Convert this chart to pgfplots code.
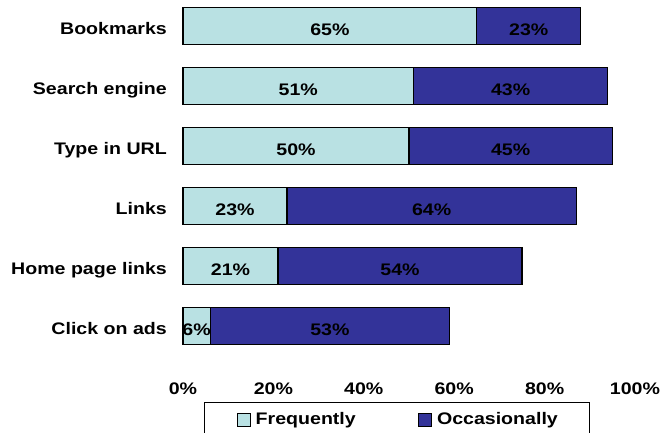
\documentclass[border=0pt]{standalone}
\usepackage{fontspec}
\setmainfont{Liberation Sans}[FakeStretch=1.17]
\usepackage{pgfplots}
\pgfplotsset{compat=1.18}
\definecolor{freq}{RGB}{185,225,227}
\definecolor{occ}{RGB}{51,51,153}
\begin{document}
\fontsize{16.8}{20}\selectfont\bfseries
\begin{tikzpicture}
\useasboundingbox (-183bp,0bp) rectangle (482bp,433bp);
\pgfplotsset{base/.style={
  scale only axis, width=452bp, height=433bp,
  xmin=0, xmax=100, ymin=-0.43333, ymax=6.78333, y dir=reverse,
  enlargelimits=false, clip=false, at={(0,0)}, anchor=south west,
}}
\begin{axis}[base, xbar stacked, bar width=37bp,
  axis line style={draw=none}, major tick length=0pt,
  xtick={0,20,40,60,80,100},
  xticklabels={0\%,20\%,40\%,60\%,80\%,100\%},
  xticklabel style={anchor=base, yshift=39bp, inner sep=0pt},
  ytick={0,1,2,3,4,5},
  yticklabels={Bookmarks,Search engine,Type in URL,Links,Home page links,Click on ads},
  yticklabel style={anchor=base east, xshift=-16bp, yshift=-8bp, inner sep=0pt},
  legend columns=2,
  legend image code/.code={\draw[#1] (0bp,-6.5bp) rectangle (13bp,6.5bp);},
  legend style={at={(0.0465,0.0716)}, anchor=north west, draw=black, line width=1bp,
    inner xsep=32bp, inner ysep=10bp, nodes={inner sep=0pt, anchor=west},
    /tikz/every odd column/.append style={column sep=5bp},
    /tikz/every even column/.append style={column sep=62bp}},
]
\addplot[fill=freq, draw=black, line width=1.2bp] coordinates {(65,0) (51,1) (50,2) (23,3) (21,4) (6,5)};
\addlegendentry{Frequently}
\addplot[fill=occ, draw=black, line width=1.2bp] coordinates {(23,0) (43,1) (45,2) (64,3) (54,4) (53,5)};
\addlegendentry{Occasionally}
\end{axis}
\begin{axis}[base, hide axis]
\addplot[draw=none, mark=none, nodes near coords, point meta=explicit symbolic,
  every node near coord/.style={anchor=center, inner sep=0pt, text=black, yshift=-4bp}]
  coordinates {(32.5,0) [65\%] (25.5,1) [51\%] (25,2) [50\%] (11.5,3) [23\%] (10.5,4) [21\%] (3,5) [6\%]
               (76.5,0) [23\%] (72.5,1) [43\%] (72.5,2) [45\%] (55,3) [64\%] (48,4) [54\%] (32.5,5) [53\%]};
\end{axis}
\end{tikzpicture}
\end{document}
